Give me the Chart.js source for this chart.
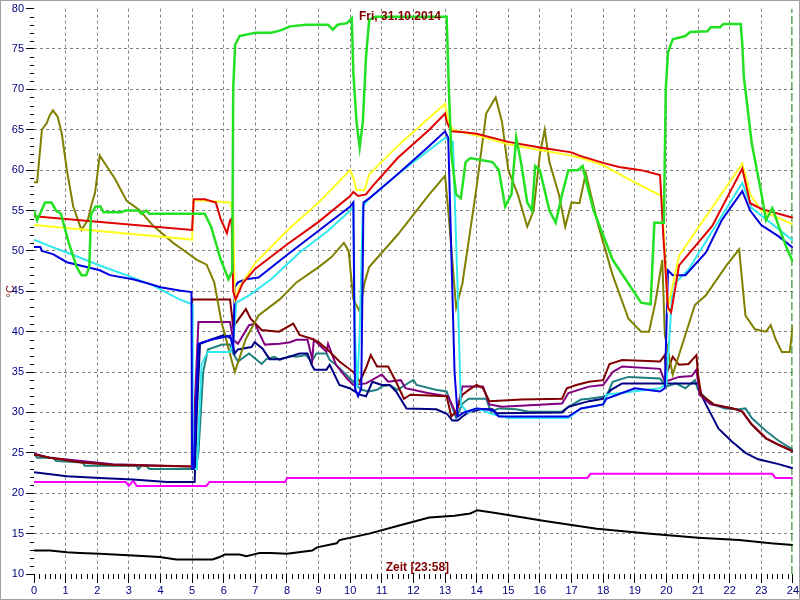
<!DOCTYPE html>
<html>
<head>
<meta charset="utf-8">
<script src="https://cdn.jsdelivr.net/npm/chart.js@4.4.1/dist/chart.umd.min.js"></script>
<style>
  html, body { margin: 0; padding: 0; background: #fff; }
  #wrap { width: 800px; height: 600px; }
</style>
</head>
<body>
<div id="wrap"><canvas id="chart" width="800" height="600"></canvas></div>
<script>
const chartTitle = 'Fri, 31.10.2014';
const xTitle = 'Zeit [23:58]';
const yTitle = '°C';
const nowHour = 23.97;

// [hour, °C]
const greenLine = [[0,55],[0.1,53.8],[0.35,56],[0.55,56],[0.7,55],[0.85,54.6],[1.1,51],[1.35,48],[1.5,47],[1.65,47],[1.75,48],[1.8,54.5],[1.95,55.5],[2.1,55.5],[2.2,54.8],[2.75,54.8],[2.9,55],[3.3,55],[3.4,54.6],[3.55,55],[3.65,54.6],[5.4,54.6],[5.6,53],[5.9,49],[6.15,46.5],[6.27,47.5],[6.3,70],[6.36,75.5],[6.5,76.6],[7.0,77],[7.5,77],[7.8,77.3],[8.1,77.8],[8.6,78],[9.3,78],[9.45,77.4],[9.6,78],[9.9,78.2],[10.05,78.8],[10.1,72],[10.2,66],[10.3,62.8],[10.4,66],[10.5,74],[10.6,78.6],[10.8,79],[12,79],[13.05,79],[13.12,70],[13.2,62],[13.35,57],[13.5,56.5],[13.65,61],[13.8,61.5],[14.5,61],[14.7,60],[14.9,55.5],[15.1,57],[15.25,64],[15.4,61],[15.6,56],[15.75,55],[15.85,60.5],[16.0,60],[16.3,55],[16.5,53.5],[16.7,57],[16.9,60],[17.2,60],[17.35,60.5],[17.5,58],[17.7,55],[18.3,48.9],[19.2,43.6],[19.5,43.4],[19.62,53.5],[19.92,53.5],[19.98,70],[20.05,74.6],[20.2,76.2],[20.6,76.6],[20.75,77.1],[21.3,77.2],[21.4,77.7],[21.7,77.7],[21.8,78.1],[22.35,78.1],[22.4,75.6],[22.45,71.5],[22.7,63.3],[23.0,57.2],[23.15,53.8],[23.35,55.3],[23.55,53.1],[23.78,50.6],[24,48.6]];
const redLine = [[0,54.3],[5.0,52.6],[5.05,56.4],[5.4,56.4],[5.75,56],[5.9,54],[6.1,52.2],[6.2,53.8],[6.25,54],[6.3,45],[6.38,44],[6.6,46],[7,47.8],[8,50.8],[9,53.6],[10,56.8],[10.1,57.3],[10.25,56.8],[10.5,57],[10.7,58],[11.5,61.5],[12.5,65],[13.0,67],[13.05,66],[13.2,64.8],[13.6,64.7],[14,64.5],[15,63.5],[16,62.8],[17,62.2],[17.25,61.8],[18.0,60.9],[18.5,60.4],[19.2,60],[19.8,59.4],[19.9,52],[20.05,43],[20.15,42.4],[20.4,48.2],[21.45,53.1],[22.4,60.2],[22.65,55.9],[23,55.2],[24,54.1]];
const yellowLine = [[0,53.2],[5.0,51.4],[5.05,56.3],[6.2,56],[6.3,54.5],[6.35,44],[6.5,45.5],[7,48.5],[8,52.5],[9,56],[10,60],[10.1,59],[10.2,57.5],[10.45,57.5],[10.6,59.5],[11.5,63],[12.5,66.5],[13.0,68.2],[13.1,66],[13.25,65],[14,64.3],[15,63.2],[16,62.5],[17,61.8],[17.3,61.5],[18,60.6],[19,58.5],[19.85,56.8],[19.95,50],[20.05,43],[20.4,49.4],[22.4,60.8],[22.65,57],[23,55],[24,53.3]];
const cyanLine = [[0,51.4],[0.5,50.6],[1.04,49.8],[2.08,48.2],[3.13,46.7],[3.77,45.7],[4.6,44],[5.0,43.4],[5.02,23],[5.15,23],[5.3,36],[5.5,37.5],[6.2,37.5],[6.3,38.5],[6.4,43.6],[6.8,44.5],[7.5,46.5],[8.4,49.8],[9.3,52.5],[10.0,55],[10.1,55.5],[10.15,40],[10.22,33],[10.3,40],[10.4,55.5],[10.6,56.5],[11.5,59.5],[12.5,62.5],[13.0,64],[13.25,63.5],[13.4,45],[13.5,31],[13.7,30],[14,30.5],[14.5,29.8],[15,29.3],[16.9,29.3],[17.3,30.5],[18.0,31],[18.1,32.2],[19.8,33],[20.0,33.5],[20.2,45.7],[20.7,47.7],[22.4,58.4],[22.7,55.3],[24,51.3]];
const blueLine = [[0,50.5],[0.2,50.5],[0.25,50],[0.6,49.6],[1.04,48.6],[2.08,47.6],[2.4,47],[3.13,46.5],[3.67,45.9],[4.0,45.5],[4.6,45.1],[4.98,44.9],[5.0,23],[5.05,23],[5.2,38.5],[5.6,39],[6.2,39.5],[6.3,38],[6.35,45.5],[6.45,46.1],[6.7,46.5],[7.1,46.7],[8,49.5],[9,52.5],[10,55.5],[10.1,56],[10.15,33],[10.25,32],[10.35,33],[10.42,56],[10.6,56.5],[11.5,59.5],[12.5,63],[13.0,64.8],[13.1,64],[13.3,35],[13.4,29.5],[13.6,30],[14,30.5],[14.5,30.3],[14.7,29.5],[16.9,29.5],[17.3,30.5],[18.0,31],[18.1,31.7],[19.0,33],[19.8,32.6],[19.95,33],[20.05,47.6],[20.2,47],[20.6,47],[21.25,49.8],[21.75,53.8],[22.4,57.4],[22.65,55],[23.0,53.2],[23.55,51.8],[24,50.4]];
const oliveLine = [[0,58.5],[0.1,58.5],[0.25,65],[0.4,65.8],[0.5,66.8],[0.6,67.4],[0.75,66.6],[0.88,64.5],[1.04,60],[1.24,55.5],[1.5,52.6],[1.7,53.8],[1.83,55.9],[1.93,57.2],[2.08,61.8],[2.18,61.2],[2.55,59],[2.93,56.2],[3.35,55],[3.77,53.1],[4.4,51],[4.83,49.8],[5.15,48.9],[5.46,48.3],[5.7,46.1],[5.93,41.2],[6.35,35],[6.7,39.1],[7.1,42],[7.77,44],[8.3,46.1],[9,48],[9.4,49.2],[9.8,51],[9.95,50],[10.1,44],[10.3,42.5],[10.45,46],[10.6,48],[11.5,52],[12.5,57],[13.0,59.3],[13.1,55],[13.35,43],[13.55,46],[14.0,58],[14.3,67],[14.6,69],[14.8,66],[15.0,60],[15.3,57],[15.6,53],[15.8,55],[16.0,62],[16.15,65],[16.3,61],[16.6,57],[16.8,53],[17.0,56],[17.25,55.9],[17.45,59.6],[17.85,53.1],[18.3,47],[18.8,41.6],[19.2,40],[19.45,40],[19.65,43.6],[19.87,48.9],[19.95,39.6],[20.2,34.7],[20.9,43.3],[21.25,44.5],[21.9,48.2],[22.3,50.2],[22.5,42],[22.8,40.3],[23.15,40],[23.3,40.8],[23.45,39.1],[23.65,37.5],[23.9,37.5],[24,40.8]];
const maroonLine = [[0,24.8],[0.5,24.4],[1.5,23.8],[2.5,23.5],[4.99,23.3],[5.0,44],[6.2,44],[6.3,40.6],[6.7,42.8],[6.85,41.6],[7.2,40.2],[7.75,40],[8.2,41],[8.4,39.6],[8.8,39.1],[9.0,38.7],[9.25,37.9],[9.66,36.3],[10.1,35],[10.3,33.8],[10.5,35.5],[10.65,37.1],[10.85,35.7],[11.2,35.7],[11.45,33.8],[11.7,31.7],[11.9,32.2],[13.05,32],[13.2,29.5],[13.35,30.1],[13.55,32.2],[13.75,32.8],[14.0,33.4],[14.2,33],[14.4,31.4],[15,31.5],[15.4,31.6],[16.7,31.7],[16.85,33],[17.15,33.4],[17.55,33.8],[18.0,34],[18.2,36],[18.6,36.5],[19.8,36.3],[19.95,37.1],[20.0,34.7],[20.2,36.9],[20.4,35.9],[20.7,36],[20.95,37.1],[21.0,34.7],[21.1,32.2],[21.5,31],[22.1,30.5],[22.4,30.1],[22.7,28.5],[23.15,26.8],[23.55,26],[24,25.2]];
const purpleLine = [[0,24.9],[0.5,24.4],[1.5,24.0],[2.5,23.6],[5.0,23.3],[5.2,41.2],[6.2,41.2],[6.3,39],[6.45,38.5],[6.8,40.8],[7.0,41],[7.1,40],[7.3,38.4],[7.77,38.5],[8.1,38.7],[8.3,39],[8.65,39],[8.8,36.6],[8.85,39],[9.25,37.5],[9.3,38.5],[9.55,35.9],[9.9,34.2],[10.1,33.4],[10.5,33.6],[11.0,34.7],[11.2,33.8],[11.6,34],[11.75,33],[12.45,32.4],[13.1,32],[13.35,29.8],[13.55,33.2],[14.2,33.2],[14.4,31],[14.8,30.7],[16.7,31.1],[16.9,32.4],[17.55,33.2],[18.0,33.4],[18.3,35],[18.6,35.7],[19.8,35.4],[19.95,33.8],[20.4,34.4],[20.8,34.5],[20.95,35.3],[21.05,32.2],[21.4,31],[22.1,30.5],[22.4,30.1],[22.7,28.5],[23.15,26.8],[23.55,26],[24,25.2]];
const tealLine = [[0,24.9],[0.1,24.4],[0.6,24.4],[0.7,24],[1.55,23.8],[1.6,23.4],[3.25,23.4],[3.3,23],[3.4,23.4],[3.55,23.4],[3.65,23],[5.1,23],[5.2,25],[5.35,35],[5.5,37.8],[5.95,38.4],[6.2,38.4],[6.3,37.3],[6.45,36.3],[6.8,37.3],[7.2,36],[7.35,36.6],[7.6,36.9],[7.77,36.5],[8.1,37],[8.3,36.9],[8.6,37.1],[8.78,36.3],[8.93,37.3],[9.25,37.3],[9.35,36.5],[9.55,35.9],[10.1,33.8],[10.35,32.8],[10.6,32.6],[10.85,32.8],[11.0,33.2],[11.25,33.4],[11.5,32.8],[11.9,33.8],[12.0,34],[12.1,33.4],[12.7,32.8],[13.05,32.6],[13.35,29.3],[13.55,31.1],[13.75,31.7],[14.3,31.7],[14.45,30.1],[14.7,30.5],[15.25,30.4],[15.65,30.1],[16.7,30.1],[16.9,30.7],[17.3,31.6],[17.55,31.7],[18.1,32],[18.3,33.8],[18.8,34.4],[19.8,34.2],[20.0,33.2],[20.3,33.6],[20.6,33],[20.9,34],[21.0,32.8],[21.4,31.1],[21.85,30.5],[22.3,30.4],[22.5,30.5],[22.7,29.3],[23.15,27.7],[23.55,26.5],[24,25.4]];
const navyLine = [[0,22.6],[1.04,22.1],[2.08,21.9],[3.13,21.7],[4.2,21.4],[5.08,21.4],[5.15,30],[5.25,38.5],[5.65,39.1],[6.03,39.6],[6.25,39.1],[6.35,37.3],[6.45,37.8],[6.88,38.1],[6.98,38.7],[7.23,37.9],[7.45,36.6],[7.77,36.6],[8.08,36.9],[8.4,37.3],[8.65,37.3],[8.78,35.9],[8.87,35.3],[9.25,35.3],[9.35,35.9],[9.66,33.4],[9.98,33],[10.3,32.2],[10.5,32],[10.7,33.8],[11.0,33.4],[11.25,33.4],[11.45,32.6],[11.78,30.5],[12.72,30.4],[13.07,29.8],[13.23,29],[13.4,29],[13.55,29.5],[13.77,30.1],[14.18,30.4],[14.5,30.4],[14.63,29.9],[16.7,30],[16.9,30.7],[17.55,31.4],[18.0,31.7],[18.25,32.8],[18.6,33.6],[21.0,33.6],[21.1,32.2],[21.25,31],[21.65,28],[22.07,26.4],[22.5,25],[22.9,24.2],[23.55,23.6],[24,23.1]];
const magentaLine = [[0,21.4],[2.9,21.4],[3.0,20.9],[3.1,21.4],[3.15,21.5],[3.25,20.9],[5.45,20.9],[5.55,21.4],[7.95,21.4],[8.0,21.9],[17.5,21.9],[17.6,22.4],[23.35,22.4],[23.45,21.9],[24,21.9]];
const blackLine = [[0,12.9],[0.5,12.9],[1.04,12.7],[1.45,12.6],[2.08,12.5],[3.13,12.3],[3.98,12.1],[4.5,11.8],[5.65,11.8],[5.87,12.1],[6.03,12.4],[6.5,12.4],[6.72,12.2],[6.92,12.4],[7.13,12.6],[7.5,12.6],[8.0,12.5],[8.8,12.9],[8.95,13.3],[9.57,13.8],[9.66,14.2],[10.6,15],[11.55,16],[12.5,17],[13.3,17.2],[13.8,17.5],[14.02,17.9],[14.7,17.5],[16.1,16.6],[17.8,15.6],[19.4,15],[21,14.5],[22.3,14.2],[23.3,13.8],[24,13.6]];
const nowMarker = [[nowHour,10],[nowHour,80]];

function line(data, color, width) {
  return {
    data: data.map(([x, y]) => ({ x, y })),
    borderColor: color,
    borderWidth: width || 2,
    pointRadius: 0,
    fill: false,
    tension: 0
  };
}

const datasets = [
  line(greenLine, '#22e022', 2.5),
  line(redLine, '#e00000'),
  line(yellowLine, '#ffff20'),
  line(blueLine, '#0000e0'),
  line(cyanLine, '#30e8f0'),
  line(oliveLine, '#808000'),
  line(maroonLine, '#800000'),
  line(purpleLine, '#800080'),
  line(navyLine, '#000080'),
  line(tealLine, '#208080'),
  line(magentaLine, '#ff00ff'),
  line(blackLine, '#000000'),
  Object.assign(line(nowMarker, '#007000', 1), { borderDash: [8, 3] })
];

const decorations = {
  id: 'decorations',
  beforeDraw(chart) {
    const ctx = chart.ctx;
    ctx.save();
    ctx.fillStyle = '#ffffff';
    ctx.fillRect(0, 0, chart.width, chart.height);
    ctx.restore();
  },
  afterDraw(chart) {
    const { ctx, chartArea, scales: { x, y } } = chart;
    ctx.save();
    // minor ticks
    ctx.strokeStyle = '#000';
    ctx.lineWidth = 1;
    ctx.beginPath();
    for (let v = 10; v <= 80; v++) {
      if (v % 5 === 0) continue;
      const py = Math.round(y.getPixelForValue(v)) + 0.5;
      ctx.moveTo(chartArea.left - 4, py);
      ctx.lineTo(chartArea.left, py);
    }
    for (let m = 0; m <= 24 * 6; m++) {
      if (m % 6 === 0) continue;
      const px = Math.round(x.getPixelForValue(m / 6)) + 0.5;
      ctx.moveTo(px, chartArea.bottom);
      ctx.lineTo(px, chartArea.bottom + 5);
    }
    ctx.stroke();
    // texts
    ctx.fillStyle = '#800000';
    ctx.font = 'bold 12px "Liberation Sans", Arial, sans-serif';
    ctx.textAlign = 'center';
    ctx.textBaseline = 'middle';
    ctx.fillText(chartTitle, chart.width / 2, 17);
    ctx.fillText(xTitle, (chartArea.left + chartArea.right) / 2 + 4, chartArea.bottom - 6);
    // frame
    ctx.strokeStyle = '#a0a0a0';
    ctx.strokeRect(0.5, 0.5, chart.width - 1, chart.height - 1);
    ctx.restore();
  }
};

new Chart(document.getElementById('chart').getContext('2d'), {
  type: 'line',
  data: { datasets },
  options: {
    responsive: false,
    animation: false,
    devicePixelRatio: 1,
    layout: { padding: { top: 4, right: 6, left: 0, bottom: 0 } },
    plugins: { legend: { display: false }, tooltip: { enabled: false } },
    scales: {
      x: {
        type: 'linear',
        min: 0,
        max: 24,
        afterFit(scale) { scale.height = 26; },
        ticks: { stepSize: 1, color: '#000080', font: { family: '"Liberation Sans", Arial, sans-serif', size: 11 }, padding: 1, maxRotation: 0, autoSkip: false },
        grid: {
          color: (c) => (c.tick && (c.tick.value === 0 || c.tick.value === 24)) ? 'rgba(0,0,0,0)' : '#808080',
          tickColor: '#000',
          tickBorderDash: [],
          tickLength: 9,
          lineWidth: 1
        },
        border: { display: false, dash: [3, 3] }
      },
      y: {
        min: 10,
        max: 80,
        afterFit(scale) { scale.width = 34; },
        title: { display: true, text: yTitle, color: '#800000', font: { family: '"Liberation Sans", Arial, sans-serif', size: 11 }, padding: { top: 4, bottom: 0 } },
        ticks: { stepSize: 5, color: '#000080', font: { family: '"Liberation Sans", Arial, sans-serif', size: 11 }, padding: 2 },
        grid: {
          color: (c) => (c.tick && (c.tick.value === 10 || c.tick.value === 80)) ? 'rgba(0,0,0,0)' : '#808080',
          tickColor: '#000',
          tickBorderDash: [],
          tickLength: 8,
          lineWidth: 1
        },
        border: { display: false, dash: [3, 3] }
      }
    }
  },
  plugins: [decorations]
});
</script>
</body>
</html>
